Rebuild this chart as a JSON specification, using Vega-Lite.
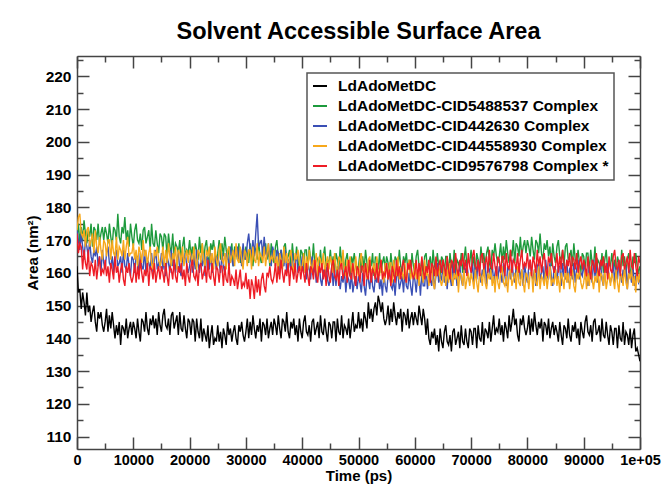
{
"$schema": "https://vega.github.io/schema/vega-lite/v6.json",
"width": 563, "height": 393,
"autosize": {"type": "none"},
"padding": {"left": 77, "top": 56, "right": 26, "bottom": 43},
"title": {"text": "Solvent Accessible Surface Area", "font": "Liberation Sans", "fontSize": 23.5, "fontWeight": "bold", "color": "#000", "offset": 9, "frame": "group", "anchor": "middle"},
"config": {
 "view": {"stroke": null},
 "axis": {"grid": false, "domainColor": "#444", "domainWidth": 1.5, "tickColor": "#444", "tickWidth": 1.5, "labelFont": "Liberation Sans", "labelFontWeight": "bold", "labelColor": "#000", "titleFont": "Liberation Sans", "titleFontWeight": "bold", "titleColor": "#000", "labelOverlap": false, "labelFlush": false},
 "legend": {"strokeWidth": 1.5}
},
"data": {"values": [
{"t":0,"k":162,"g":171,"b":173,"o":173,"r":172},
{"t":250,"k":154,"g":175,"b":170,"o":177,"r":166},
{"t":500,"k":155,"g":169,"b":167,"o":178,"r":169},
{"t":750,"k":149,"g":174,"b":172,"o":172,"r":168},
{"t":1000,"k":154,"g":170,"b":168,"o":171,"r":161},
{"t":1250,"k":151,"g":176,"b":164,"o":173,"r":167},
{"t":1500,"k":147,"g":172,"b":170,"o":168,"r":163},
{"t":1750,"k":154,"g":169,"b":168,"o":173,"r":161},
{"t":2000,"k":148,"g":173,"b":165,"o":174,"r":167},
{"t":2250,"k":150,"g":171,"b":170,"o":168,"r":159},
{"t":2500,"k":145,"g":175,"b":165,"o":170,"r":163},
{"t":2750,"k":148,"g":168,"b":163,"o":172,"r":162},
{"t":3000,"k":150,"g":174,"b":167,"o":166,"r":159},
{"t":3250,"k":145,"g":173,"b":165,"o":173,"r":164},
{"t":3500,"k":142,"g":170,"b":168,"o":168,"r":158},
{"t":3750,"k":148,"g":175,"b":162,"o":166,"r":162},
{"t":4000,"k":146,"g":169,"b":165,"o":171,"r":165},
{"t":4250,"k":148,"g":172,"b":160,"o":167,"r":159},
{"t":4500,"k":144,"g":174,"b":167,"o":164,"r":161},
{"t":4750,"k":142,"g":170,"b":163,"o":170,"r":160},
{"t":5000,"k":145,"g":174,"b":161,"o":169,"r":164},
{"t":5250,"k":149,"g":172,"b":166,"o":165,"r":159},
{"t":5500,"k":142,"g":169,"b":168,"o":170,"r":162},
{"t":5750,"k":147,"g":175,"b":163,"o":170,"r":157},
{"t":6000,"k":143,"g":171,"b":162,"o":164,"r":163},
{"t":6250,"k":148,"g":168,"b":165,"o":170,"r":161},
{"t":6500,"k":144,"g":174,"b":160,"o":166,"r":158},
{"t":6750,"k":140,"g":173,"b":166,"o":165,"r":165},
{"t":7000,"k":144,"g":170,"b":167,"o":171,"r":160},
{"t":7250,"k":141,"g":178,"b":162,"o":164,"r":162},
{"t":7500,"k":145,"g":171,"b":163,"o":168,"r":157},
{"t":7750,"k":138,"g":169,"b":165,"o":167,"r":161},
{"t":8000,"k":144,"g":174,"b":160,"o":165,"r":163},
{"t":8250,"k":143,"g":172,"b":167,"o":170,"r":158},
{"t":8500,"k":141,"g":177,"b":162,"o":164,"r":156},
{"t":8750,"k":146,"g":170,"b":161,"o":168,"r":162},
{"t":9000,"k":140,"g":173,"b":166,"o":171,"r":160},
{"t":9250,"k":143,"g":168,"b":162,"o":165,"r":163},
{"t":9500,"k":145,"g":175,"b":159,"o":166,"r":159},
{"t":9750,"k":141,"g":171,"b":165,"o":166,"r":157},
{"t":10000,"k":145,"g":168,"b":164,"o":169,"r":159},
{"t":10250,"k":143,"g":173,"b":160,"o":164,"r":163},
{"t":10500,"k":140,"g":175,"b":165,"o":167,"r":157},
{"t":10750,"k":146,"g":170,"b":165,"o":162,"r":162},
{"t":11000,"k":142,"g":169,"b":159,"o":168,"r":158},
{"t":11250,"k":139,"g":172,"b":166,"o":166,"r":164},
{"t":11500,"k":146,"g":167,"b":162,"o":163,"r":160},
{"t":11750,"k":145,"g":173,"b":161,"o":170,"r":157},
{"t":12000,"k":142,"g":174,"b":167,"o":165,"r":161},
{"t":12250,"k":148,"g":169,"b":160,"o":167,"r":159},
{"t":12500,"k":143,"g":171,"b":164,"o":162,"r":163},
{"t":12750,"k":141,"g":173,"b":163,"o":166,"r":156},
{"t":13000,"k":146,"g":167,"b":161,"o":168,"r":162},
{"t":13250,"k":144,"g":175,"b":166,"o":163,"r":161},
{"t":13500,"k":147,"g":169,"b":160,"o":161,"r":158},
{"t":13750,"k":143,"g":168,"b":164,"o":167,"r":163},
{"t":14000,"k":146,"g":173,"b":167,"o":165,"r":157},
{"t":14250,"k":141,"g":169,"b":161,"o":168,"r":160},
{"t":14500,"k":148,"g":166,"b":163,"o":164,"r":162},
{"t":14750,"k":144,"g":172,"b":162,"o":162,"r":158},
{"t":15000,"k":142,"g":171,"b":166,"o":164,"r":162},
{"t":15250,"k":147,"g":167,"b":161,"o":168,"r":160},
{"t":15500,"k":149,"g":172,"b":164,"o":162,"r":157},
{"t":15750,"k":144,"g":171,"b":159,"o":167,"r":163},
{"t":16000,"k":143,"g":165,"b":165,"o":163,"r":159},
{"t":16250,"k":146,"g":172,"b":163,"o":169,"r":156},
{"t":16500,"k":141,"g":168,"b":160,"o":165,"r":162},
{"t":16750,"k":147,"g":166,"b":167,"o":162,"r":161},
{"t":17000,"k":148,"g":172,"b":162,"o":166,"r":158},
{"t":17250,"k":143,"g":165,"b":165,"o":164,"r":164},
{"t":17500,"k":145,"g":169,"b":160,"o":168,"r":159},
{"t":17750,"k":147,"g":168,"b":164,"o":161,"r":157},
{"t":18000,"k":141,"g":166,"b":166,"o":167,"r":162},
{"t":18250,"k":148,"g":170,"b":161,"o":166,"r":160},
{"t":18500,"k":143,"g":164,"b":159,"o":163,"r":163},
{"t":18750,"k":142,"g":168,"b":165,"o":168,"r":158},
{"t":19000,"k":147,"g":171,"b":163,"o":162,"r":161},
{"t":19250,"k":143,"g":165,"b":166,"o":165,"r":156},
{"t":19500,"k":140,"g":167,"b":162,"o":167,"r":163},
{"t":19750,"k":146,"g":166,"b":160,"o":163,"r":159},
{"t":20000,"k":145,"g":170,"b":162,"o":167,"r":157},
{"t":20250,"k":141,"g":165,"b":166,"o":165,"r":162},
{"t":20500,"k":146,"g":168,"b":160,"o":162,"r":164},
{"t":20750,"k":145,"g":163,"b":165,"o":168,"r":159},
{"t":21000,"k":139,"g":169,"b":161,"o":164,"r":158},
{"t":21250,"k":146,"g":167,"b":167,"o":161,"r":161},
{"t":21500,"k":142,"g":164,"b":163,"o":167,"r":156},
{"t":21750,"k":140,"g":171,"b":160,"o":166,"r":162},
{"t":22000,"k":146,"g":166,"b":164,"o":163,"r":163},
{"t":22250,"k":139,"g":169,"b":162,"o":169,"r":158},
{"t":22500,"k":143,"g":164,"b":166,"o":164,"r":160},
{"t":22750,"k":141,"g":168,"b":159,"o":162,"r":162},
{"t":23000,"k":139,"g":170,"b":165,"o":167,"r":157},
{"t":23250,"k":144,"g":165,"b":164,"o":165,"r":164},
{"t":23500,"k":137,"g":163,"b":161,"o":168,"r":159},
{"t":23750,"k":141,"g":169,"b":166,"o":163,"r":158},
{"t":24000,"k":144,"g":167,"b":160,"o":166,"r":163},
{"t":24250,"k":138,"g":170,"b":163,"o":161,"r":159},
{"t":24500,"k":140,"g":166,"b":165,"o":168,"r":156},
{"t":24750,"k":139,"g":164,"b":161,"o":164,"r":162},
{"t":25000,"k":144,"g":166,"b":165,"o":162,"r":161},
{"t":25250,"k":139,"g":170,"b":163,"o":167,"r":157},
{"t":25500,"k":142,"g":164,"b":160,"o":169,"r":162},
{"t":25750,"k":137,"g":169,"b":166,"o":164,"r":162},
{"t":26000,"k":143,"g":165,"b":162,"o":163,"r":156},
{"t":26250,"k":141,"g":171,"b":160,"o":166,"r":162},
{"t":26500,"k":138,"g":167,"b":166,"o":161,"r":158},
{"t":26750,"k":145,"g":164,"b":165,"o":167,"r":157},
{"t":27000,"k":141,"g":168,"b":162,"o":168,"r":163},
{"t":27250,"k":143,"g":166,"b":168,"o":163,"r":156},
{"t":27500,"k":139,"g":169,"b":164,"o":165,"r":159},
{"t":27750,"k":142,"g":162,"b":162,"o":167,"r":158},
{"t":28000,"k":144,"g":168,"b":167,"o":162,"r":156},
{"t":28250,"k":140,"g":167,"b":165,"o":169,"r":161},
{"t":28500,"k":138,"g":164,"b":168,"o":164,"r":155},
{"t":28750,"k":144,"g":169,"b":164,"o":163,"r":158},
{"t":29000,"k":142,"g":163,"b":167,"o":168,"r":161},
{"t":29250,"k":145,"g":166,"b":162,"o":164,"r":155},
{"t":29500,"k":141,"g":168,"b":169,"o":161,"r":157},
{"t":29750,"k":139,"g":164,"b":165,"o":167,"r":156},
{"t":30000,"k":142,"g":168,"b":164,"o":166,"r":160},
{"t":30250,"k":146,"g":166,"b":169,"o":162,"r":155},
{"t":30500,"k":140,"g":163,"b":172,"o":167,"r":158},
{"t":30750,"k":145,"g":169,"b":167,"o":167,"r":152},
{"t":31000,"k":141,"g":165,"b":166,"o":161,"r":158},
{"t":31250,"k":147,"g":162,"b":170,"o":168,"r":156},
{"t":31500,"k":143,"g":168,"b":165,"o":164,"r":152},
{"t":31750,"k":140,"g":167,"b":172,"o":163,"r":159},
{"t":32000,"k":144,"g":164,"b":178,"o":169,"r":154},
{"t":32250,"k":142,"g":170,"b":168,"o":162,"r":158},
{"t":32500,"k":146,"g":165,"b":169,"o":166,"r":153},
{"t":32750,"k":139,"g":163,"b":170,"o":165,"r":158},
{"t":33000,"k":145,"g":168,"b":165,"o":163,"r":160},
{"t":33250,"k":144,"g":166,"b":171,"o":168,"r":156},
{"t":33500,"k":141,"g":169,"b":166,"o":162,"r":154},
{"t":33750,"k":146,"g":164,"b":165,"o":166,"r":160},
{"t":34000,"k":140,"g":167,"b":169,"o":169,"r":159},
{"t":34250,"k":143,"g":162,"b":165,"o":163,"r":162},
{"t":34500,"k":145,"g":169,"b":162,"o":165,"r":158},
{"t":34750,"k":141,"g":165,"b":168,"o":164,"r":157},
{"t":35000,"k":146,"g":163,"b":166,"o":167,"r":159},
{"t":35250,"k":144,"g":168,"b":162,"o":162,"r":163},
{"t":35500,"k":141,"g":170,"b":167,"o":165,"r":157},
{"t":35750,"k":147,"g":165,"b":166,"o":160,"r":162},
{"t":36000,"k":143,"g":164,"b":160,"o":166,"r":158},
{"t":36250,"k":140,"g":167,"b":167,"o":164,"r":164},
{"t":36500,"k":146,"g":162,"b":163,"o":161,"r":160},
{"t":36750,"k":145,"g":168,"b":162,"o":168,"r":157},
{"t":37000,"k":142,"g":169,"b":167,"o":163,"r":161},
{"t":37250,"k":148,"g":164,"b":160,"o":166,"r":159},
{"t":37500,"k":142,"g":165,"b":164,"o":161,"r":163},
{"t":37750,"k":140,"g":167,"b":163,"o":165,"r":156},
{"t":38000,"k":145,"g":162,"b":161,"o":167,"r":162},
{"t":38250,"k":143,"g":169,"b":166,"o":162,"r":161},
{"t":38500,"k":146,"g":164,"b":159,"o":160,"r":158},
{"t":38750,"k":141,"g":163,"b":163,"o":166,"r":163},
{"t":39000,"k":144,"g":168,"b":166,"o":164,"r":157},
{"t":39250,"k":139,"g":164,"b":160,"o":167,"r":160},
{"t":39500,"k":146,"g":161,"b":162,"o":163,"r":162},
{"t":39750,"k":142,"g":167,"b":161,"o":161,"r":158},
{"t":40000,"k":140,"g":166,"b":165,"o":162,"r":162},
{"t":40250,"k":145,"g":162,"b":160,"o":166,"r":160},
{"t":40500,"k":147,"g":167,"b":163,"o":160,"r":157},
{"t":40750,"k":142,"g":167,"b":158,"o":165,"r":163},
{"t":41000,"k":141,"g":161,"b":163,"o":161,"r":159},
{"t":41250,"k":144,"g":168,"b":161,"o":167,"r":156},
{"t":41500,"k":139,"g":164,"b":158,"o":163,"r":162},
{"t":41750,"k":145,"g":163,"b":165,"o":160,"r":161},
{"t":42000,"k":146,"g":169,"b":160,"o":164,"r":158},
{"t":42250,"k":141,"g":162,"b":162,"o":162,"r":164},
{"t":42500,"k":143,"g":165,"b":157,"o":166,"r":159},
{"t":42750,"k":145,"g":164,"b":161,"o":159,"r":157},
{"t":43000,"k":140,"g":162,"b":163,"o":165,"r":162},
{"t":43250,"k":147,"g":167,"b":158,"o":164,"r":160},
{"t":43500,"k":142,"g":161,"b":156,"o":161,"r":163},
{"t":43750,"k":141,"g":165,"b":161,"o":166,"r":158},
{"t":44000,"k":146,"g":168,"b":159,"o":160,"r":161},
{"t":44250,"k":142,"g":162,"b":162,"o":163,"r":156},
{"t":44500,"k":139,"g":164,"b":158,"o":165,"r":163},
{"t":44750,"k":145,"g":163,"b":156,"o":161,"r":159},
{"t":45000,"k":144,"g":167,"b":158,"o":165,"r":157},
{"t":45250,"k":140,"g":162,"b":162,"o":163,"r":162},
{"t":45500,"k":145,"g":165,"b":156,"o":160,"r":164},
{"t":45750,"k":145,"g":160,"b":161,"o":166,"r":159},
{"t":46000,"k":139,"g":166,"b":156,"o":162,"r":158},
{"t":46250,"k":146,"g":164,"b":162,"o":159,"r":161},
{"t":46500,"k":142,"g":161,"b":158,"o":165,"r":156},
{"t":46750,"k":141,"g":168,"b":155,"o":164,"r":162},
{"t":47000,"k":147,"g":163,"b":159,"o":161,"r":163},
{"t":47250,"k":140,"g":166,"b":157,"o":167,"r":158},
{"t":47500,"k":144,"g":160,"b":161,"o":161,"r":160},
{"t":47750,"k":143,"g":164,"b":154,"o":159,"r":162},
{"t":48000,"k":141,"g":166,"b":159,"o":164,"r":157},
{"t":48250,"k":146,"g":161,"b":158,"o":162,"r":164},
{"t":48500,"k":140,"g":159,"b":155,"o":165,"r":159},
{"t":48750,"k":144,"g":165,"b":160,"o":160,"r":158},
{"t":49000,"k":148,"g":163,"b":154,"o":163,"r":163},
{"t":49250,"k":142,"g":166,"b":157,"o":158,"r":159},
{"t":49500,"k":144,"g":162,"b":159,"o":165,"r":156},
{"t":49750,"k":143,"g":160,"b":155,"o":161,"r":162},
{"t":50000,"k":148,"g":162,"b":159,"o":159,"r":161},
{"t":50250,"k":143,"g":166,"b":157,"o":164,"r":157},
{"t":50500,"k":146,"g":160,"b":154,"o":166,"r":162},
{"t":50750,"k":142,"g":165,"b":160,"o":161,"r":162},
{"t":51000,"k":148,"g":161,"b":156,"o":160,"r":156},
{"t":51250,"k":146,"g":167,"b":153,"o":163,"r":163},
{"t":51500,"k":143,"g":163,"b":159,"o":158,"r":159},
{"t":51750,"k":151,"g":160,"b":158,"o":164,"r":158},
{"t":52000,"k":146,"g":164,"b":155,"o":165,"r":164},
{"t":52250,"k":149,"g":162,"b":161,"o":160,"r":157},
{"t":52500,"k":145,"g":166,"b":156,"o":161,"r":161},
{"t":52750,"k":149,"g":159,"b":154,"o":163,"r":160},
{"t":53000,"k":151,"g":165,"b":159,"o":158,"r":158},
{"t":53250,"k":147,"g":164,"b":157,"o":165,"r":163},
{"t":53500,"k":153,"g":161,"b":160,"o":160,"r":157},
{"t":53750,"k":151,"g":166,"b":155,"o":159,"r":161},
{"t":54000,"k":148,"g":160,"b":158,"o":164,"r":164},
{"t":54250,"k":151,"g":163,"b":153,"o":160,"r":158},
{"t":54500,"k":146,"g":165,"b":160,"o":157,"r":160},
{"t":54750,"k":144,"g":161,"b":156,"o":163,"r":159},
{"t":55000,"k":146,"g":165,"b":154,"o":162,"r":163},
{"t":55250,"k":150,"g":163,"b":159,"o":158,"r":158},
{"t":55500,"k":144,"g":160,"b":161,"o":163,"r":161},
{"t":55750,"k":149,"g":166,"b":156,"o":163,"r":156},
{"t":56000,"k":145,"g":162,"b":155,"o":157,"r":162},
{"t":56250,"k":151,"g":159,"b":158,"o":164,"r":160},
{"t":56500,"k":147,"g":165,"b":153,"o":160,"r":157},
{"t":56750,"k":144,"g":164,"b":159,"o":159,"r":164},
{"t":57000,"k":148,"g":161,"b":160,"o":165,"r":159},
{"t":57250,"k":146,"g":167,"b":155,"o":158,"r":162},
{"t":57500,"k":149,"g":162,"b":157,"o":161,"r":158},
{"t":57750,"k":142,"g":160,"b":159,"o":160,"r":162},
{"t":58000,"k":148,"g":165,"b":154,"o":158,"r":164},
{"t":58250,"k":147,"g":163,"b":161,"o":163,"r":159},
{"t":58500,"k":144,"g":166,"b":156,"o":157,"r":157},
{"t":58750,"k":149,"g":161,"b":155,"o":161,"r":163},
{"t":59000,"k":143,"g":164,"b":160,"o":164,"r":161},
{"t":59250,"k":146,"g":159,"b":156,"o":158,"r":164},
{"t":59500,"k":148,"g":166,"b":153,"o":160,"r":160},
{"t":59750,"k":144,"g":162,"b":159,"o":159,"r":158},
{"t":60000,"k":148,"g":160,"b":158,"o":163,"r":160},
{"t":60250,"k":146,"g":165,"b":154,"o":158,"r":164},
{"t":60500,"k":144,"g":167,"b":159,"o":161,"r":158},
{"t":60750,"k":150,"g":162,"b":159,"o":156,"r":163},
{"t":61000,"k":147,"g":161,"b":153,"o":162,"r":159},
{"t":61250,"k":144,"g":164,"b":160,"o":160,"r":165},
{"t":61500,"k":149,"g":159,"b":156,"o":157,"r":161},
{"t":61750,"k":146,"g":165,"b":156,"o":164,"r":158},
{"t":62000,"k":141,"g":166,"b":162,"o":159,"r":162},
{"t":62250,"k":146,"g":161,"b":155,"o":161,"r":160},
{"t":62500,"k":140,"g":163,"b":159,"o":156,"r":164},
{"t":62750,"k":138,"g":165,"b":158,"o":160,"r":157},
{"t":63000,"k":142,"g":160,"b":156,"o":162,"r":163},
{"t":63250,"k":140,"g":167,"b":161,"o":157,"r":162},
{"t":63500,"k":143,"g":162,"b":155,"o":155,"r":159},
{"t":63750,"k":138,"g":161,"b":159,"o":161,"r":165},
{"t":64000,"k":141,"g":166,"b":163,"o":159,"r":159},
{"t":64250,"k":136,"g":162,"b":157,"o":162,"r":162},
{"t":64500,"k":143,"g":159,"b":159,"o":158,"r":164},
{"t":64750,"k":139,"g":165,"b":158,"o":156,"r":160},
{"t":65000,"k":137,"g":164,"b":162,"o":158,"r":164},
{"t":65250,"k":142,"g":160,"b":157,"o":162,"r":162},
{"t":65500,"k":144,"g":165,"b":160,"o":156,"r":159},
{"t":65750,"k":139,"g":165,"b":155,"o":161,"r":165},
{"t":66000,"k":138,"g":159,"b":161,"o":157,"r":161},
{"t":66250,"k":141,"g":166,"b":159,"o":163,"r":158},
{"t":66500,"k":136,"g":162,"b":156,"o":159,"r":164},
{"t":66750,"k":142,"g":161,"b":163,"o":156,"r":163},
{"t":67000,"k":143,"g":167,"b":158,"o":160,"r":160},
{"t":67250,"k":138,"g":160,"b":161,"o":158,"r":166},
{"t":67500,"k":140,"g":164,"b":156,"o":161,"r":161},
{"t":67750,"k":142,"g":163,"b":160,"o":154,"r":159},
{"t":68000,"k":137,"g":161,"b":162,"o":160,"r":164},
{"t":68250,"k":144,"g":166,"b":158,"o":159,"r":162},
{"t":68500,"k":139,"g":160,"b":156,"o":156,"r":166},
{"t":68750,"k":138,"g":164,"b":162,"o":161,"r":161},
{"t":69000,"k":143,"g":168,"b":160,"o":155,"r":164},
{"t":69250,"k":139,"g":162,"b":163,"o":158,"r":159},
{"t":69500,"k":137,"g":164,"b":159,"o":160,"r":166},
{"t":69750,"k":143,"g":163,"b":157,"o":156,"r":162},
{"t":70000,"k":142,"g":167,"b":159,"o":160,"r":160},
{"t":70250,"k":138,"g":162,"b":163,"o":158,"r":165},
{"t":70500,"k":143,"g":165,"b":157,"o":155,"r":167},
{"t":70750,"k":143,"g":160,"b":162,"o":161,"r":162},
{"t":71000,"k":137,"g":166,"b":158,"o":157,"r":161},
{"t":71250,"k":144,"g":164,"b":164,"o":154,"r":164},
{"t":71500,"k":140,"g":161,"b":160,"o":160,"r":159},
{"t":71750,"k":139,"g":168,"b":157,"o":159,"r":165},
{"t":72000,"k":145,"g":163,"b":161,"o":156,"r":166},
{"t":72250,"k":138,"g":166,"b":159,"o":162,"r":161},
{"t":72500,"k":143,"g":162,"b":163,"o":157,"r":163},
{"t":72750,"k":142,"g":166,"b":156,"o":155,"r":165},
{"t":73000,"k":140,"g":168,"b":162,"o":160,"r":160},
{"t":73250,"k":145,"g":163,"b":161,"o":158,"r":167},
{"t":73500,"k":139,"g":161,"b":158,"o":161,"r":162},
{"t":73750,"k":143,"g":167,"b":163,"o":156,"r":161},
{"t":74000,"k":147,"g":165,"b":157,"o":159,"r":166},
{"t":74250,"k":141,"g":169,"b":160,"o":154,"r":162},
{"t":74500,"k":143,"g":165,"b":162,"o":161,"r":159},
{"t":74750,"k":142,"g":163,"b":158,"o":157,"r":165},
{"t":75000,"k":146,"g":165,"b":162,"o":155,"r":164},
{"t":75250,"k":141,"g":169,"b":160,"o":160,"r":160},
{"t":75500,"k":144,"g":163,"b":157,"o":162,"r":165},
{"t":75750,"k":139,"g":168,"b":163,"o":157,"r":165},
{"t":76000,"k":145,"g":164,"b":159,"o":156,"r":159},
{"t":76250,"k":143,"g":170,"b":156,"o":159,"r":166},
{"t":76500,"k":140,"g":166,"b":162,"o":154,"r":162},
{"t":76750,"k":147,"g":163,"b":161,"o":160,"r":161},
{"t":77000,"k":142,"g":167,"b":158,"o":161,"r":167},
{"t":77250,"k":145,"g":165,"b":164,"o":156,"r":160},
{"t":77500,"k":149,"g":170,"b":159,"o":158,"r":164},
{"t":77750,"k":144,"g":163,"b":157,"o":160,"r":163},
{"t":78000,"k":146,"g":169,"b":162,"o":155,"r":161},
{"t":78250,"k":141,"g":168,"b":160,"o":162,"r":166},
{"t":78500,"k":139,"g":165,"b":163,"o":157,"r":160},
{"t":78750,"k":146,"g":171,"b":158,"o":156,"r":164},
{"t":79000,"k":144,"g":165,"b":161,"o":161,"r":167},
{"t":79250,"k":147,"g":168,"b":156,"o":157,"r":161},
{"t":79500,"k":143,"g":170,"b":163,"o":154,"r":163},
{"t":79750,"k":141,"g":166,"b":159,"o":160,"r":162},
{"t":80000,"k":143,"g":170,"b":157,"o":159,"r":166},
{"t":80250,"k":147,"g":168,"b":162,"o":155,"r":161},
{"t":80500,"k":141,"g":165,"b":164,"o":160,"r":164},
{"t":80750,"k":146,"g":171,"b":159,"o":160,"r":159},
{"t":81000,"k":142,"g":167,"b":158,"o":154,"r":165},
{"t":81250,"k":148,"g":164,"b":161,"o":161,"r":163},
{"t":81500,"k":144,"g":170,"b":156,"o":157,"r":160},
{"t":81750,"k":141,"g":169,"b":162,"o":156,"r":167},
{"t":82000,"k":145,"g":166,"b":163,"o":162,"r":162},
{"t":82250,"k":143,"g":172,"b":158,"o":155,"r":165},
{"t":82500,"k":146,"g":166,"b":160,"o":159,"r":160},
{"t":82750,"k":139,"g":164,"b":162,"o":158,"r":164},
{"t":83000,"k":145,"g":169,"b":157,"o":156,"r":166},
{"t":83250,"k":144,"g":167,"b":164,"o":161,"r":161},
{"t":83500,"k":141,"g":170,"b":159,"o":155,"r":159},
{"t":83750,"k":146,"g":165,"b":158,"o":159,"r":165},
{"t":84000,"k":140,"g":168,"b":163,"o":162,"r":163},
{"t":84250,"k":143,"g":162,"b":159,"o":156,"r":166},
{"t":84500,"k":145,"g":169,"b":156,"o":158,"r":162},
{"t":84750,"k":141,"g":165,"b":162,"o":157,"r":160},
{"t":85000,"k":144,"g":163,"b":161,"o":161,"r":162},
{"t":85250,"k":142,"g":168,"b":157,"o":156,"r":166},
{"t":85500,"k":139,"g":170,"b":162,"o":159,"r":160},
{"t":85750,"k":145,"g":165,"b":162,"o":154,"r":165},
{"t":86000,"k":141,"g":164,"b":156,"o":160,"r":161},
{"t":86250,"k":138,"g":167,"b":163,"o":158,"r":167},
{"t":86500,"k":144,"g":162,"b":159,"o":155,"r":163},
{"t":86750,"k":143,"g":168,"b":158,"o":162,"r":160},
{"t":87000,"k":140,"g":169,"b":164,"o":157,"r":164},
{"t":87250,"k":146,"g":164,"b":157,"o":160,"r":162},
{"t":87500,"k":141,"g":165,"b":161,"o":155,"r":166},
{"t":87750,"k":139,"g":167,"b":160,"o":159,"r":159},
{"t":88000,"k":144,"g":162,"b":158,"o":161,"r":165},
{"t":88250,"k":142,"g":169,"b":163,"o":156,"r":164},
{"t":88500,"k":145,"g":164,"b":157,"o":154,"r":161},
{"t":88750,"k":140,"g":163,"b":161,"o":160,"r":166},
{"t":89000,"k":143,"g":167,"b":164,"o":158,"r":160},
{"t":89250,"k":138,"g":163,"b":158,"o":161,"r":163},
{"t":89500,"k":145,"g":160,"b":160,"o":157,"r":165},
{"t":89750,"k":142,"g":166,"b":159,"o":155,"r":161},
{"t":90000,"k":140,"g":165,"b":163,"o":157,"r":164},
{"t":90250,"k":145,"g":161,"b":158,"o":161,"r":162},
{"t":90500,"k":147,"g":166,"b":161,"o":155,"r":159},
{"t":90750,"k":142,"g":166,"b":156,"o":160,"r":165},
{"t":91000,"k":141,"g":160,"b":162,"o":156,"r":161},
{"t":91250,"k":144,"g":167,"b":160,"o":162,"r":158},
{"t":91500,"k":139,"g":163,"b":157,"o":158,"r":164},
{"t":91750,"k":145,"g":162,"b":164,"o":155,"r":163},
{"t":92000,"k":146,"g":168,"b":159,"o":159,"r":160},
{"t":92250,"k":141,"g":161,"b":162,"o":157,"r":166},
{"t":92500,"k":142,"g":164,"b":157,"o":161,"r":161},
{"t":92750,"k":144,"g":163,"b":161,"o":154,"r":159},
{"t":93000,"k":139,"g":161,"b":163,"o":160,"r":164},
{"t":93250,"k":146,"g":166,"b":158,"o":159,"r":162},
{"t":93500,"k":141,"g":160,"b":156,"o":156,"r":165},
{"t":93750,"k":140,"g":164,"b":162,"o":161,"r":160},
{"t":94000,"k":145,"g":167,"b":160,"o":155,"r":163},
{"t":94250,"k":141,"g":161,"b":163,"o":158,"r":158},
{"t":94500,"k":138,"g":163,"b":159,"o":160,"r":165},
{"t":94750,"k":144,"g":162,"b":157,"o":156,"r":161},
{"t":95000,"k":142,"g":166,"b":159,"o":160,"r":160},
{"t":95250,"k":138,"g":161,"b":163,"o":158,"r":165},
{"t":95500,"k":143,"g":164,"b":157,"o":155,"r":167},
{"t":95750,"k":143,"g":159,"b":162,"o":161,"r":162},
{"t":96000,"k":137,"g":165,"b":158,"o":157,"r":161},
{"t":96250,"k":144,"g":163,"b":164,"o":154,"r":164},
{"t":96500,"k":140,"g":160,"b":160,"o":160,"r":159},
{"t":96750,"k":139,"g":167,"b":157,"o":159,"r":165},
{"t":97000,"k":145,"g":162,"b":161,"o":156,"r":166},
{"t":97250,"k":138,"g":165,"b":159,"o":162,"r":161},
{"t":97500,"k":142,"g":160,"b":162,"o":157,"r":163},
{"t":97750,"k":141,"g":164,"b":155,"o":155,"r":165},
{"t":98000,"k":138,"g":166,"b":161,"o":160,"r":160},
{"t":98250,"k":143,"g":161,"b":160,"o":158,"r":167},
{"t":98500,"k":137,"g":159,"b":157,"o":161,"r":162},
{"t":98750,"k":141,"g":165,"b":162,"o":156,"r":161},
{"t":99000,"k":143,"g":163,"b":156,"o":159,"r":166},
{"t":99250,"k":136,"g":166,"b":159,"o":154,"r":162},
{"t":99500,"k":137,"g":162,"b":161,"o":161,"r":159},
{"t":99750,"k":135,"g":160,"b":157,"o":157,"r":165},
{"t":100000,"k":133,"g":162,"b":158,"o":160,"r":163}
]},
"transform": [{"fold": ["k", "g", "b", "o", "r"], "as": ["s", "v"]}],
"layer": [
 {
  "mark": {"type": "line", "strokeWidth": 1.4, "clip": true},
  "encoding": {
   "x": {"field": "t", "type": "quantitative", "scale": {"domain": [0, 100000], "nice": false},
     "axis": {"orient": "bottom", "values": [0,5000,10000,15000,20000,25000,30000,35000,40000,45000,50000,55000,60000,65000,70000,75000,80000,85000,90000,95000,100000],
       "tickSize": {"condition": {"test": "datum.value % 10000 === 0", "value": -12}, "value": -6},
       "labelPadding": 16, "labelFontSize": 14.5,
       "labelExpr": "datum.value === 100000 ? '1e+05' : (datum.value % 10000 === 0 ? format(datum.value, 'd') : '')",
       "title": "Time (ps)", "titleFontSize": 15, "titlePadding": -4}},
   "y": {"field": "v", "type": "quantitative", "scale": {"domain": [106.2, 226.2], "nice": false, "zero": false},
     "axis": {"orient": "left", "values": [110,115,120,125,130,135,140,145,150,155,160,165,170,175,180,185,190,195,200,205,210,215,220,225],
       "tickSize": {"condition": {"test": "datum.value % 10 === 0", "value": -12}, "value": -6},
       "labelPadding": 18, "labelFontSize": 15.5,
       "labelExpr": "datum.value % 10 === 0 ? format(datum.value, 'd') : ''",
       "title": "Area (nm²)", "titleFontSize": 15, "titlePadding": 5}},
   "color": {"field": "s", "type": "nominal",
     "scale": {"domain": ["k", "g", "b", "o", "r"], "range": ["#000000", "#1d9a3c", "#3a4fb5", "#f7a81b", "#ee1c25"]},
     "legend": {"orient": "none", "legendX": 230, "legendY": 17, "title": null, "symbolType": "stroke", "symbolSize": 196, "symbolStrokeWidth": 2,
       "labelFont": "Liberation Sans", "labelFontSize": 15.5, "labelFontWeight": "bold", "labelColor": "#000", "labelOffset": 10,
       "strokeColor": "#555", "fillColor": "#ffffff", "padding": 5, "rowPadding": 3, "labelLimit": 400,
       "labelExpr": "{'k': 'LdAdoMetDC', 'g': 'LdAdoMetDC-CID5488537 Complex', 'b': 'LdAdoMetDC-CID442630 Complex', 'o': 'LdAdoMetDC-CID44558930 Complex', 'r': 'LdAdoMetDC-CID9576798 Complex *'}[datum.label]"}}
  }
 },
 {
  "mark": {"type": "line", "strokeOpacity": 0},
  "encoding": {
   "detail": {"field": "s"},
   "x": {"field": "t", "type": "quantitative", "scale": {"domain": [0, 100000], "nice": false},
     "axis": {"orient": "top", "values": [0,5000,10000,15000,20000,25000,30000,35000,40000,45000,50000,55000,60000,65000,70000,75000,80000,85000,90000,95000,100000],
       "tickSize": {"condition": {"test": "datum.value % 10000 === 0", "value": -12}, "value": -6},
       "labels": false, "title": null}},
   "y": {"field": "v", "type": "quantitative", "scale": {"domain": [106.2, 226.2], "nice": false, "zero": false},
     "axis": {"orient": "right", "values": [110,115,120,125,130,135,140,145,150,155,160,165,170,175,180,185,190,195,200,205,210,215,220,225],
       "tickSize": {"condition": {"test": "datum.value % 10 === 0", "value": -12}, "value": -6},
       "labels": false, "title": null}}
  }
 }
],
"resolve": {"scale": {"x": "independent", "y": "independent"}}
}
